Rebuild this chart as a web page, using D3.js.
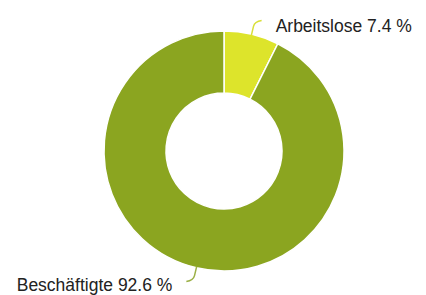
<!DOCTYPE html>
<html>
<head>
<meta charset="utf-8">
<script src="https://cdn.jsdelivr.net/npm/d3@7.9.0/dist/d3.min.js"></script>
<style>
  html, body { margin: 0; padding: 0; background: #fff; }
  svg { display: block; }
  text { font-family: "Liberation Sans", Arial, Helvetica, sans-serif; fill: #222; }
</style>
</head>
<body>
<div id="chart"></div>
<script>
// --- Data ---
const labels = ["Arbeitslose", "Beschäftigte"];
const values = [7.4, 92.6];
const colors = ["#dde42b", "#8ba520"];
const lineColors = ["#d9df3a", "#9bb046"];

const width = 426;
const height = 295;
const cx = 224, cy = 151;
const outerR = 120, innerR = 58;

const svg = d3.select("#chart")
  .append("svg")
  .attr("width", width)
  .attr("height", height);

const g = svg.append("g").attr("transform", `translate(${cx},${cy})`);

const pie = d3.pie().sort(null).value((d) => d.value);
const arcs = pie(labels.map((l, i) => ({ label: l, value: values[i], i })));

const arc = d3.arc().innerRadius(innerR).outerRadius(outerR);

// --- Slices ---
g.selectAll("path.slice")
  .data(arcs)
  .join("path")
  .attr("class", "slice")
  .attr("d", arc)
  .attr("fill", (d) => colors[d.data.i])
  .attr("stroke", "#fff")
  .attr("stroke-width", 1.5);

// --- Leader lines + labels ---
const polar = (a, r) => [Math.sin(a) * r, -Math.cos(a) * r];

arcs.forEach((d) => {
  const mid = (d.startAngle + d.endAngle) / 2;
  const right = Math.sin(mid) >= 0;
  const dir = right ? 1 : -1;
  const p0 = polar(mid, outerR - 1);
  const p1 = polar(mid, outerR + 8);
  const c = polar(mid, outerR + 13);
  const p3 = [c[0] + dir * 7, c[1] + (right ? -1 : 1)];

  g.append("path")
    .attr("d", `M${p0}L${p1}Q${c} ${p3}`)
    .attr("fill", "none")
    .attr("stroke", lineColors[d.data.i])
    .attr("stroke-width", 1.5);

  g.append("text")
    .attr("x", p3[0] + dir * 14)
    .attr("y", p3[1] + (right ? 11 : 10))
    .attr("text-anchor", right ? "start" : "end")
    .attr("font-size", "17.5px")
    .text(`${d.data.label} ${d.data.value} %`);
});
</script>
</body>
</html>
